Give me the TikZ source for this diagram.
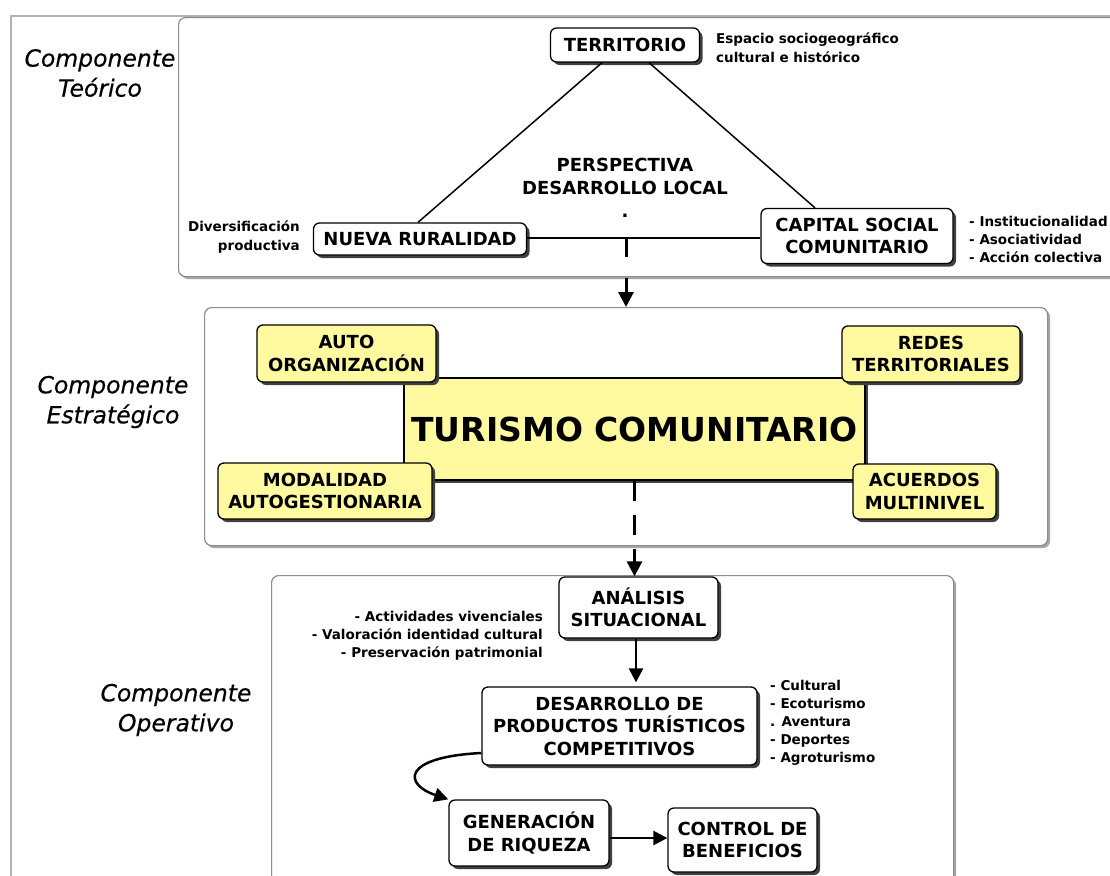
\documentclass[tikz,border=0pt]{standalone}
\usepackage{fontspec}
\setmainfont{DejaVu Sans}
\newfontfamily\compfont[ItalicFeatures={FakeBold=0.5}]{DejaVu Sans}
\usetikzlibrary{shadows,arrows.meta,calc}
\definecolor{nodeyellow}{RGB}{255,250,160}
\tikzset{
  box/.style={draw=black, line width=1.3pt, rounded corners=6pt, fill=white, align=center,
    font=\fontsize{18}{22.5}\selectfont\bfseries, inner sep=0pt,
    drop shadow={shadow xshift=3pt, shadow yshift=-3pt, fill=black!75, opacity=1}},
  ybox/.style={box, fill=nodeyellow},
  bigbox/.style={box, sharp corners, fill=nodeyellow, font=\fontsize{33}{40}\selectfont\bfseries},
  container/.style={draw=black!45, line width=1.2pt, rounded corners=7pt, fill=white, inner sep=0pt,
    drop shadow={shadow xshift=2.5pt, shadow yshift=-2.5pt, fill=black!35, opacity=1}},
  note/.style={font=\fontsize{13.5}{18}\selectfont\bfseries, inner sep=0pt},
  comp/.style={font=\compfont\fontsize{23.5}{30}\selectfont\itshape, align=center, inner sep=0pt},
  link/.style={line width=1.5pt, black},
  dasharrow/.style={line width=3pt, dash pattern=on 20pt off 21pt, -{Triangle[length=15pt,width=15pt]}},
  solidarrow/.style={line width=2.5pt, -{Triangle[length=14pt,width=14pt]}},
}
\begin{document}
\begin{tikzpicture}[x=1pt,y=-1pt]
\useasboundingbox (0,0) rectangle (1110,875);
\fill[white] (0,0) rectangle (1110,875);
\clip (0,0) rectangle (1110,875);

% outer frame
\node[draw=black!30, line width=1.8pt, inner sep=0pt, anchor=north west,
  minimum width=1130pt, minimum height=900pt] (outer) at (10,15) {};

% containers
\node[container, anchor=north west, minimum width=952pt, minimum height=259pt] (teor) at (178,17) {};
\node[container, anchor=north west, minimum width=843pt, minimum height=238pt] (strat) at (204,307) {};
\node[container, anchor=north west, minimum width=682pt, minimum height=330pt] (oper) at (271,575) {};

% component labels
\node[comp] (compT) at (100,73) {Componente\\Teórico};
\node[comp] (compE) at (113,402) {Componente\\Estratégico};
\node[comp] (compO) at (176,710) {Componente\\Operativo};

% theoretical component
\node[box, minimum width=149pt, minimum height=34pt] (terr) at (625,45) {TERRITORIO};
\node[box, minimum width=213pt, minimum height=32pt] (nueva) at (420,239) {NUEVA RURALIDAD};
\node[box, minimum width=192pt, minimum height=55pt] (capital) at (857,236) {CAPITAL SOCIAL\\COMUNITARIO};
\node[font=\fontsize{18}{23}\selectfont\bfseries, align=center, inner sep=0pt] (persp) at (625,188) {PERSPECTIVA\\DESARROLLO LOCAL\\.};
\node[note, align=left, anchor=west, font=\fontsize{13.5}{19}\selectfont\bfseries] (espacio) at (716,47.5) {Espacio sociogeográfico\\cultural e histórico};
\node[note, align=right, anchor=east, font=\fontsize{13.5}{19}\selectfont\bfseries] (divers) at (300,237.5) {Diversificación\\productiva};
\node[note, align=left, anchor=west] (inst) at (969,239) {- Institucionalidad\\- Asociatividad\\- Acción colectiva};

\draw[link] ([xshift=-23pt]terr.south) -- ([xshift=-2pt]nueva.north);
\draw[link] ([xshift=24pt]terr.south) -- ([xshift=-42pt]capital.north);
\draw[link] ([yshift=1pt]nueva.east) -- ([yshift=1pt]nueva.east -| capital.west);

\coordinate (d1) at (626,237);
\draw[dasharrow] (d1) -- (d1 |- strat.north);

% strategic component
\node[bigbox, minimum width=461pt, minimum height=102pt] (turismo) at (634.5,429) {TURISMO COMUNITARIO};
\node[ybox, minimum width=179pt, minimum height=57pt] (auto) at (346.5,353.5) {AUTO\\ORGANIZACIÓN};
\node[ybox, minimum width=178pt, minimum height=56pt] (redes) at (931,354) {REDES\\TERRITORIALES};
\node[ybox, minimum width=214pt, minimum height=56pt] (modal) at (325,491) {MODALIDAD\\AUTOGESTIONARIA};
\node[ybox, minimum width=143pt, minimum height=55pt] (acuerdos) at (924.5,491.5) {ACUERDOS\\MULTINIVEL};

% operative component
\node[box, minimum width=159pt, minimum height=61pt] (analisis) at (638.5,607.5) {ANÁLISIS\\SITUACIONAL};
\node[box, minimum width=275pt, minimum height=78pt] (desarr) at (619.5,726) {DESARROLLO DE\\PRODUCTOS TURÍSTICOS\\COMPETITIVOS};
\node[box, minimum width=160pt, minimum height=66pt] (gener) at (529,833) {GENERACIÓN\\DE RIQUEZA};
\node[box, minimum width=149pt, minimum height=64pt] (control) at (742.5,840) {CONTROL DE\\BENEFICIOS};
\node[note, align=right, anchor=east] (activ) at (543,635.5) {- Actividades vivenciales\\- Valoración identidad cultural\\- Preservación patrimonial};
\node[note, align=left, anchor=west] (tipos) at (770,723) {- Cultural\\- Ecoturismo\\. Aventura\\- Deportes\\- Agroturismo};

\draw[dasharrow, dash pattern=on 20pt off 14pt] (turismo.south) -- (turismo.south |- analisis.north);
\draw[solidarrow, shorten >=4pt] ([xshift=-2.5pt]analisis.south) -- ([xshift=-2.5pt]analisis.south |- desarr.north);
\draw[solidarrow] ([yshift=-27pt]desarr.west) .. controls +(-80,4) and +(-45,-15) .. (gener.north west);
\draw[solidarrow] ([yshift=-5pt]gener.east) -- ([yshift=-5pt]gener.east -| control.west);
\end{tikzpicture}
\end{document}
